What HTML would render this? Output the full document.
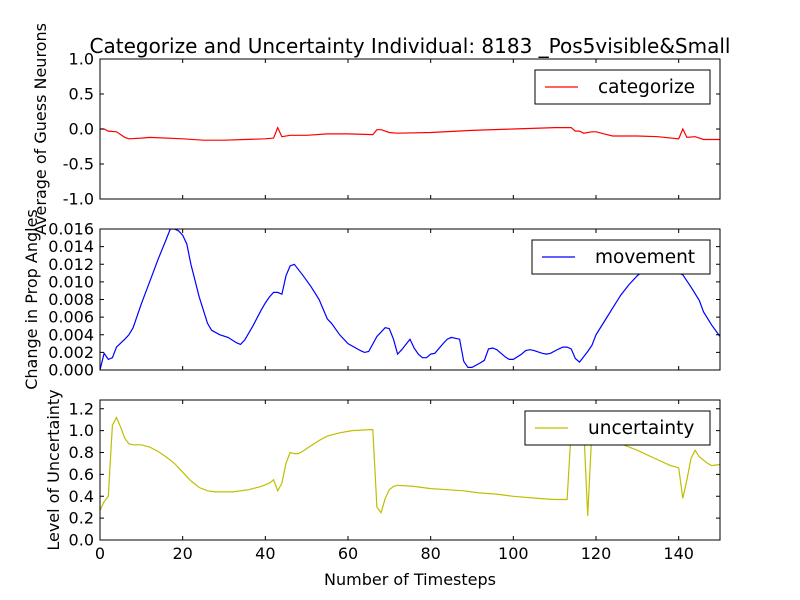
<!DOCTYPE html>
<html><head><meta charset="utf-8"><style>body{margin:0;background:#fff}svg{display:block;font-family:"DejaVu Sans","Liberation Sans",sans-serif}</style></head>
<body>
<svg id="chart" width="800" height="600" xmlns="http://www.w3.org/2000/svg">
<rect width="800" height="600" fill="#fff"/>
<text x="410" y="53" font-size="20" text-anchor="middle">Categorize and Uncertainty Individual: 8183 _Pos5visible&amp;Small</text>
<g id="root"></g>
</svg>
<script>
const catT=[0,1,2,4,5,6,7,10,12,20,25,30,35,40,42,43,44,46,50,55,60,66,67,68,70,72,80,90,100,110,114,115,116,117,119,120,122,124,130,135,140,141,142,144,146,150];
const catV=[0,0,-0.03,-0.04,-0.08,-0.12,-0.14,-0.13,-0.12,-0.14,-0.16,-0.16,-0.15,-0.14,-0.13,0.02,-0.11,-0.09,-0.09,-0.07,-0.07,-0.08,-0.01,-0.01,-0.05,-0.06,-0.05,-0.02,0,0.02,0.02,-0.03,-0.03,-0.06,-0.04,-0.04,-0.07,-0.10,-0.10,-0.11,-0.14,0,-0.12,-0.11,-0.15,-0.15];
const movT=[0,1,2,3,4,6,7,8,10,12,14,16,17,18,19,20,21,22,24,26,27,29,31,33,34,35,37,39,40,41,42,43,44,45,46,47,49,51,53,55,56,58,60,63,64,65,67,69,70,71,72,73,75,76,77,78,79,80,81,83,84,85,87,88,89,90,92,93,94,95,96,98,99,100,102,103,104,105,107,108,109,111,112,113,114,115,116,118,119,120,122,124,126,128,130,132,134,136,138,140,141,143,145,146,148,150];
const movV=[0,0.0019,0.0012,0.0014,0.0026,0.0035,0.004,0.0048,0.0075,0.01,0.0125,0.0148,0.016,0.016,0.0158,0.0153,0.0143,0.012,0.0083,0.0053,0.0045,0.004,0.0037,0.0031,0.0029,0.0034,0.005,0.0068,0.0076,0.0083,0.0088,0.0088,0.0086,0.0107,0.0118,0.012,0.0108,0.0095,0.008,0.0058,0.0053,0.004,0.003,0.0022,0.002,0.0021,0.0038,0.0048,0.0047,0.0035,0.0018,0.0023,0.0035,0.0025,0.0018,0.0014,0.0014,0.0018,0.0019,0.003,0.0035,0.0037,0.0035,0.001,0.0003,0.0003,0.0008,0.0011,0.0024,0.0025,0.0023,0.0015,0.0012,0.0012,0.0018,0.0022,0.0023,0.0022,0.0019,0.0018,0.0019,0.0024,0.0026,0.0026,0.0024,0.0013,0.0009,0.0021,0.0028,0.004,0.0055,0.007,0.0085,0.0097,0.0107,0.0114,0.0118,0.0118,0.0114,0.011,0.0108,0.0094,0.0079,0.0066,0.0051,0.0038];
const uncT=[0,1,2,3,4,5,6,7,8,10,12,14,16,18,20,22,24,26,28,32,36,39,41,42,43,44,45,46,47,48,49,51,53,55,58,61,66,67,68,69,70,71,72,76,80,84,88,92,96,100,106,110,113,114,115,117,118,119,120,122,126,130,134,138,140,141,142,143,144,145,147,148,150];
const uncV=[0.27,0.35,0.4,1.05,1.12,1.03,0.93,0.88,0.87,0.87,0.85,0.81,0.76,0.7,0.62,0.54,0.48,0.45,0.44,0.44,0.46,0.49,0.52,0.55,0.45,0.52,0.7,0.8,0.79,0.79,0.81,0.86,0.91,0.95,0.98,1.0,1.01,0.3,0.25,0.38,0.46,0.49,0.5,0.49,0.47,0.46,0.45,0.43,0.42,0.4,0.38,0.37,0.37,1.0,1.05,1.05,0.22,1.0,0.95,0.92,0.88,0.82,0.75,0.68,0.66,0.38,0.55,0.75,0.82,0.76,0.7,0.68,0.69];
const xTicks=[0,20,40,60,80,100,120,140];
const p1Ticks=["-1.0","-0.5","0.0","0.5","1.0"];
const p2Ticks=["0.000","0.002","0.004","0.006","0.008","0.010","0.012","0.014","0.016"];
const p3Ticks=["0.0","0.2","0.4","0.6","0.8","1.0","1.2"];

const NS="http://www.w3.org/2000/svg",root=document.getElementById('root');
const L=100,R=720;
const sx=t=>L+t*(R-L)/150;
function mk(tag,a,p){const e=document.createElementNS(NS,tag);for(const k in a)e.setAttribute(k,a[k]);(p||root).appendChild(e);return e;}
function panel(name,top,bot,ymin,ymax,ticks,T,V,color,label,legX,ylab,ylx,showX){
  const g=mk('g',{});
  
  
  const sy=v=>bot-(v-ymin)/(ymax-ymin)*(bot-top);
  const clip=mk('clipPath',{id:'c'+name},g);mk('rect',{x:L,y:top,width:R-L,height:bot-top},clip);
  const d=T.map((t,i)=>(i?'L':'M')+sx(t).toFixed(1)+' '+sy(V[i]).toFixed(1)).join(' ');
  const line=mk('path',{d:d,fill:'none',stroke:color,'stroke-width':1.2,'clip-path':'url(#c'+name+')'},g);
  
  
  ticks.forEach(s=>{const v=parseFloat(s),y=sy(v);
    mk('line',{x1:L,x2:L+4,y1:y,y2:y,stroke:'#000'},g);mk('line',{x1:R-4,x2:R,y1:y,y2:y,stroke:'#000'},g);
    const tx=mk('text',{x:L-6,y:y+5.5,'font-size':16,'text-anchor':'end'},g);tx.textContent=s;
    
    });
  xTicks.forEach(t=>{const x=sx(t);
    mk('line',{x1:x,x2:x,y1:bot,y2:bot-4,stroke:'#000'},g);mk('line',{x1:x,x2:x,y1:top,y2:top+4,stroke:'#000'},g);
    if(showX){const tx=mk('text',{x:x,y:bot+19,'font-size':16,'text-anchor':'middle'},g);tx.textContent=t;
      
      }});
  mk('rect',{x:L,y:top,width:R-L,height:bot-top,fill:'none',stroke:'#000','stroke-width':1},g);
  const lg=mk('g',{},g);
  
  
  mk('rect',{x:legX,y:top+11,width:710-legX,height:34,fill:'#fff',stroke:'#000'},lg);
  mk('line',{x1:legX+10,x2:legX+43,y1:top+28,y2:top+28,stroke:color,'stroke-width':1.2},lg);
  const lt=mk('text',{x:legX+63,y:top+34,'font-size':18.5},lg);lt.textContent=label;
  const yl=mk('text',{x:ylx,y:(top+bot)/2,'font-size':16,'text-anchor':'middle',transform:'rotate(-90 '+ylx+' '+((top+bot)/2)+')'},g);yl.textContent=ylab;
  
  
}
panel('categorize',59,199,-1,1,p1Ticks,catT,catV,'#ff0000','categorize',535,'Average of Guess Neurons',46,false);
panel('movement',229,370,0,0.016,p2Ticks,movT,movV,'#0000ff','movement',532,'Change in Prop Angles',37,false);
panel('uncertainty',400,540,0,1.28,p3Ticks,uncT,uncV,'#bfbf00','uncertainty',525,'Level of Uncertainty',59,true);
const xt=mk('text',{x:410,y:585,'font-size':16,'text-anchor':'middle'});xt.textContent='Number of Timesteps';


</script>
</body></html>
